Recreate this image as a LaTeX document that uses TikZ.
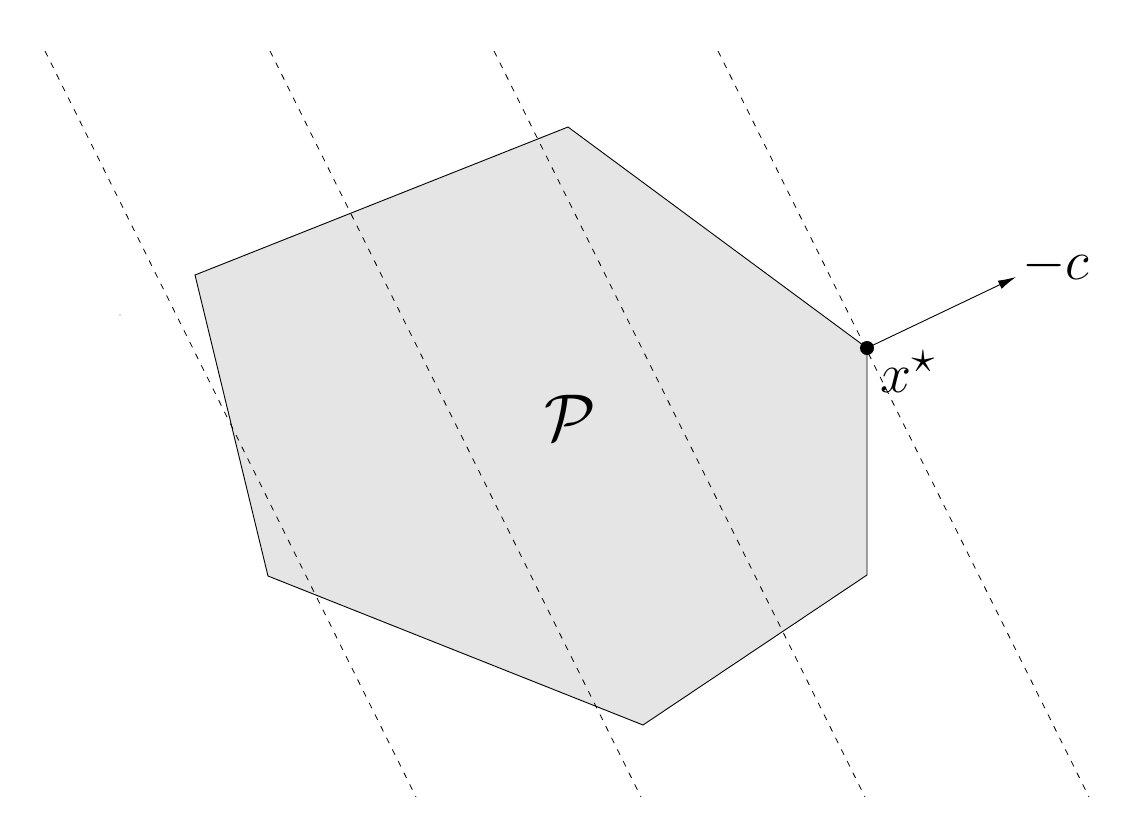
\documentclass[tikz,border=0pt]{standalone}
\usetikzlibrary{arrows.meta}
\begin{document}
\begin{tikzpicture}[x=0.5pt,y=-0.5pt,
  poly/.style={draw=black,line width=0.45pt,fill=black!10,line join=miter},
  level/.style={draw=black,line width=0.4pt,dash pattern=on 3pt off 3.5pt},
  vec/.style={draw=black,line width=0.45pt,-{Latex[length=9pt,width=4.5pt]}},
  lab/.style={inner sep=0pt,font=\Huge}]
\useasboundingbox (0,0) rectangle (1140,820);
% polygon
\coordinate (v1) at (568,127);
\coordinate (v2) at (867,348);
\coordinate (v3) at (867,575);
\coordinate (v4) at (643,725);
\coordinate (v5) at (268,576);
\coordinate (v6) at (195,275);
\path[poly] (v1) -- (v2) -- (v3) -- (v4) -- (v5) -- (v6) -- cycle;
% level lines
\coordinate (a1) at (45,51);  \coordinate (b1) at (416,797);
\coordinate (a2) at (270,51); \coordinate (b2) at (641,797);
\coordinate (a3) at (494,51); \coordinate (b3) at (865,797);
\coordinate (a4) at (718,51); \coordinate (b4) at (1089,797);
\draw[level] (a1) -- (b1);
\draw[level] (a2) -- (b2);
\draw[level] (a3) -- (b3);
\draw[level] (a4) -- (b4);
% optimum and direction
\node[circle,fill=black,inner sep=0pt,minimum size=7pt] (xs) at (v2) {};
\coordinate (tip) at (1016,277);
\draw[vec] (xs.center) -- (tip);
\node[lab,scale=1.12] (mc) at (1056,266) {$-c$};
\node[lab,scale=1.12] (xl) at (908,372) {$x^\star$};
\node[lab,scale=1.33] (P) at (570,418) {$\mathcal{P}$};
% tiny speck
\fill[black!60] (120,315) circle (0.6);
\end{tikzpicture}
\end{document}
